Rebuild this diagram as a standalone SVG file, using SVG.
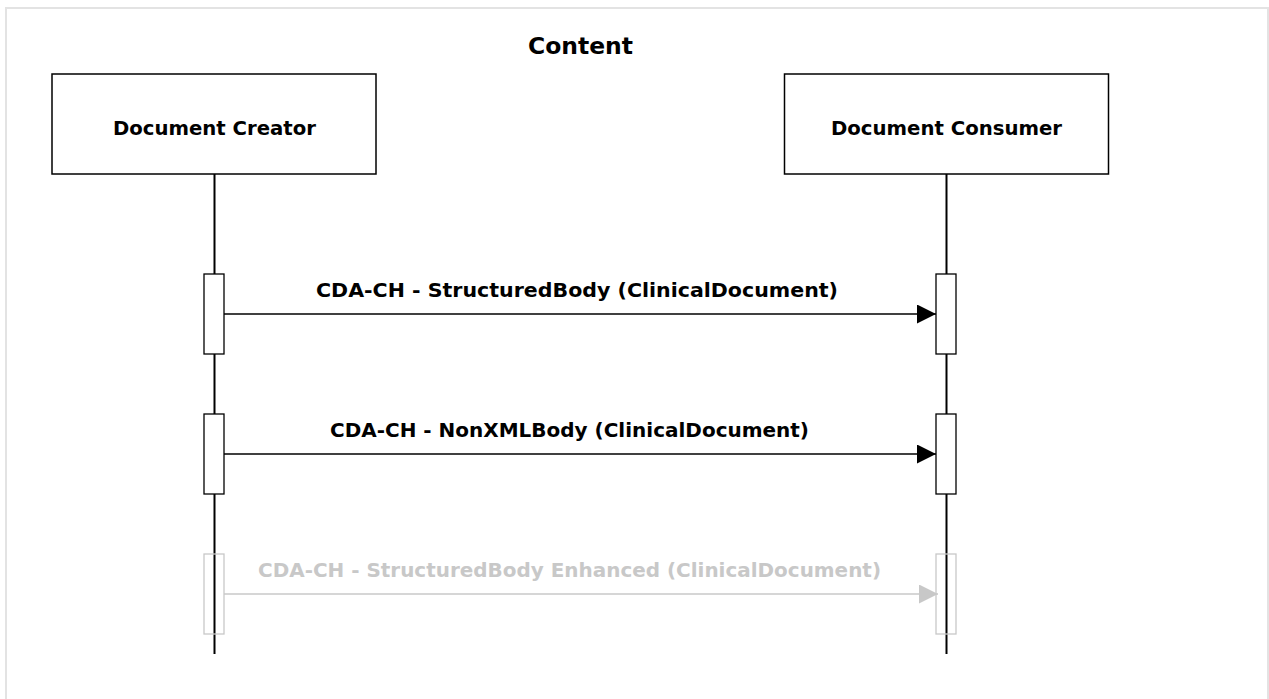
<svg xmlns="http://www.w3.org/2000/svg" width="1269" height="699" viewBox="0 0 1269 699">
<style>
text{font-family:"DejaVu Sans","Verdana",sans-serif;font-weight:bold;}
.box{fill:#fff;stroke:#000;stroke-width:1.5;}
.act{fill:#fff;stroke:#000;stroke-width:1.3;}
.actg{fill:none;stroke:#c8c8c8;stroke-width:1.3;}
.life{stroke:#000;stroke-width:2;}
.msg{stroke:#000;stroke-width:1.5;fill:none;}
.msgg{stroke:#c8c8c8;stroke-width:1.5;fill:none;}
.lbl{font-size:19px;fill:#000;}
.lblg{font-size:19px;fill:#c8c8c8;}
</style>
<defs>
<marker id="ah" markerWidth="20" markerHeight="20" refX="19" refY="9.5" orient="auto" markerUnits="userSpaceOnUse"><path d="M0,0 L19,9.5 L0,19 Z" fill="#000"/></marker>
<marker id="ahg" markerWidth="20" markerHeight="20" refX="19" refY="9.5" orient="auto" markerUnits="userSpaceOnUse"><path d="M0,0 L19,9.5 L0,19 Z" fill="#c8c8c8"/></marker>
</defs>
<rect x="0" y="0" width="1269" height="699" fill="#fff"/>
<rect x="6" y="8" width="1262" height="720" fill="none" stroke="#e3e3e3" stroke-width="2"/>
<text x="528" y="54" font-size="23" textLength="105" lengthAdjust="spacingAndGlyphs">Content</text>
<g id="lifelines">
<line class="life" x1="214.5" y1="174" x2="214.5" y2="654"/>
<line class="life" x1="946.5" y1="174" x2="946.5" y2="654"/>
</g>
<g id="creator">
<rect class="box" x="52" y="74" width="324" height="100"/>
<text x="113" y="135" font-size="19" textLength="203" lengthAdjust="spacingAndGlyphs">Document Creator</text>
</g>
<g id="consumer">
<rect class="box" x="784.5" y="74" width="324" height="100"/>
<text x="831" y="135" font-size="19" textLength="231" lengthAdjust="spacingAndGlyphs">Document Consumer</text>
</g>
<g id="activations">
<rect class="act" x="204" y="274" width="20" height="80"/>
<rect class="act" x="936" y="274" width="20" height="80"/>
<rect class="act" x="204" y="414" width="20" height="80"/>
<rect class="act" x="936" y="414" width="20" height="80"/>
<rect class="actg" x="204" y="554" width="20" height="80"/>
<rect class="actg" x="936" y="554" width="20" height="80"/>
</g>
<g id="connectors">
<line class="msg" x1="224" y1="314" x2="936" y2="314" marker-end="url(#ah)"/>
<line class="msg" x1="224" y1="454" x2="936" y2="454" marker-end="url(#ah)"/>
<line class="msgg" x1="224" y1="594" x2="938" y2="594" marker-end="url(#ahg)"/>
</g>
<g id="labels">
<text class="lbl" x="316" y="297" textLength="522" lengthAdjust="spacingAndGlyphs">CDA-CH - StructuredBody (ClinicalDocument)</text>
<text class="lbl" x="330" y="437" textLength="479" lengthAdjust="spacingAndGlyphs">CDA-CH - NonXMLBody (ClinicalDocument)</text>
<text class="lblg" x="258" y="577" textLength="623" lengthAdjust="spacingAndGlyphs">CDA-CH - StructuredBody Enhanced (ClinicalDocument)</text>
</g>
</svg>
